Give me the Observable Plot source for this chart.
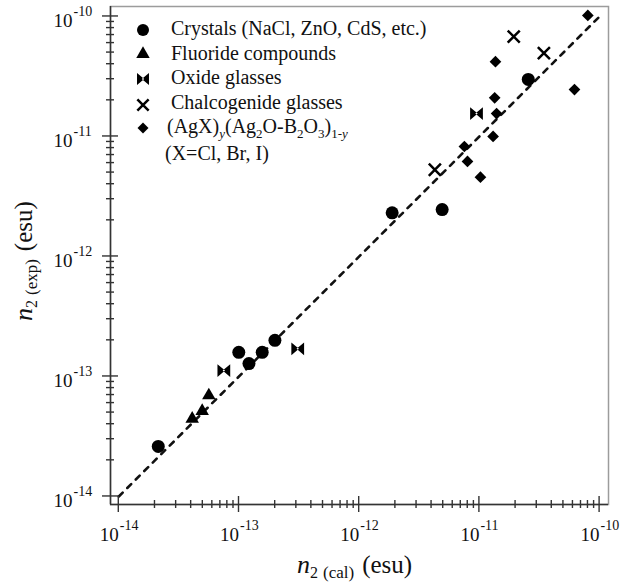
<!DOCTYPE html>
<html><head><meta charset="utf-8">
<script src="https://cdn.jsdelivr.net/npm/d3@7"></script>
<script src="https://cdn.jsdelivr.net/npm/@observablehq/plot@0.6"></script>
<style>
body{margin:0;background:#fff}
#chart svg{display:block}
</style></head><body><div id="chart"></div>
<script>
// ---- data ----
const crystalsX = [2.13e-14, 9.96e-14, 1.21e-13, 1.56e-13, 1.99e-13, 1.88e-12, 4.9e-12, 2.55e-11];
const crystalsY = [2.61e-14, 1.59e-13, 1.28e-13, 1.59e-13, 2.0e-13, 2.31e-12, 2.46e-12, 2.99e-11];
const fluorideX = [4.08e-14, 4.94e-14, 5.61e-14];
const fluorideY = [4.44e-14, 5.14e-14, 6.95e-14];
const oxideX = [7.48e-14, 3.08e-13, 9.46e-12];
const oxideY = [1.12e-13, 1.70e-13, 1.55e-11];
const chalcX = [4.26e-12, 1.93e-11, 3.44e-11];
const chalcY = [5.28e-12, 6.8e-11, 4.95e-11];
const agxX = [7.5e-12, 7.96e-12, 1.02e-11, 1.30e-11, 1.34e-11, 1.39e-11, 1.36e-11, 6.18e-11, 7.98e-11];
const agxY = [8.25e-12, 6.19e-12, 4.58e-12, 1.0e-11, 2.1e-11, 1.55e-11, 4.2e-11, 2.46e-11, 1.02e-10];
const refLine = [1e-14, 1e-10];
const majorTicks = [1e-14, 1e-13, 1e-12, 1e-11, 1e-10];
const tickExponents = ["-14", "-13", "-12", "-11", "-10"];
const minorMantissas = [2, 3, 4, 5, 6, 7, 8, 9];
const legendLabels = ["Crystals (NaCl, ZnO, CdS, etc.)", "Fluoride compounds", "Oxide glasses", "Chalcogenide glasses"];

const minorTicks = majorTicks.slice(0, -1).flatMap(d => minorMantissas.map(m => m * d));
const xDomain = [10 ** -14.069, 10 ** -9.926];
const yDomain = [10 ** -14.067, 10 ** -9.917];
const FONT = "'Liberation Serif','Times New Roman',serif";
const INK = "#111";
const AXIS = "#333";

// ---- symbols ----
const symDiamond = {draw(c, size) { const r = Math.sqrt(size) * 0.66; c.moveTo(0, -r); c.lineTo(r, 0); c.lineTo(0, r); c.lineTo(-r, 0); c.closePath(); }};
const symBowtie = {draw(c, size) { const w = Math.sqrt(size) * 0.72, h = Math.sqrt(size) * 0.72;
  c.moveTo(-w, -h); c.lineTo(1.2, 0); c.lineTo(-w, h); c.closePath();
  c.moveTo(w, -h); c.lineTo(-1.2, 0); c.lineTo(w, h); c.closePath(); }};
const symTimes = {draw(c, size) { const r = Math.sqrt(size) * 0.68; c.moveTo(-r, -r); c.lineTo(r, r); c.moveTo(r, -r); c.lineTo(-r, r); }};

const pts = (xs, ys) => xs.map((x, i) => ({x, y: ys[i]}));

const chart = Plot.plot({
  width: 629, height: 584,
  marginLeft: 110, marginRight: 21, marginTop: 6, marginBottom: 80,
  x: {type: "log", domain: xDomain, axis: null},
  y: {type: "log", domain: yDomain, axis: null},
  style: {fontFamily: FONT, background: "white", color: INK},
  marks: [
    Plot.frame({stroke: "#9c9c9c", strokeWidth: 1.5}),
    Plot.ruleX([xDomain[0]], {stroke: AXIS, strokeWidth: 1.5}),
    Plot.ruleY([yDomain[0]], {stroke: AXIS, strokeWidth: 1.5}),
    Plot.text(majorTicks, {x: d => d, frameAnchor: "bottom", text: () => "10", textAnchor: "end", lineAnchor: "bottom", dy: 36, fontSize: 19, fill: INK}),
    Plot.text(majorTicks, {x: d => d, frameAnchor: "bottom", text: (d, i) => tickExponents[i], textAnchor: "start", lineAnchor: "bottom", dy: 25, dx: 1, fontSize: 14, fill: INK}),
    Plot.text(majorTicks, {y: d => d, frameAnchor: "left", text: () => "10", textAnchor: "end", lineAnchor: "bottom", dx: -38, dy: 11, fontSize: 19, fill: INK}),
    Plot.text(majorTicks, {y: d => d, frameAnchor: "left", text: (d, i) => tickExponents[i], textAnchor: "start", lineAnchor: "bottom", dx: -37, dy: 0, fontSize: 14, fill: INK}),
    Plot.line(refLine, {x: d => d, y: d => d, stroke: "#111", strokeWidth: 2.6, strokeDasharray: "5.5,6.5"}),
    Plot.dot(pts(crystalsX, crystalsY), {x: "x", y: "y", symbol: d3.symbolCircle, r: 6.5, fill: "#000", stroke: "none"}),
    Plot.dot(pts(fluorideX, fluorideY), {x: "x", y: "y", symbol: d3.symbolTriangle, r: 5, fill: "#000", stroke: "none"}),
    Plot.dot(pts(oxideX, oxideY), {x: "x", y: "y", symbol: symBowtie, r: 5, fill: "#000", stroke: "none"}),
    Plot.dot(pts(chalcX, chalcY), {x: "x", y: "y", symbol: symTimes, r: 5, fill: "none", stroke: "#000", strokeWidth: 2.5}),
    Plot.dot(pts(agxX, agxY), {x: "x", y: "y", symbol: symDiamond, r: 5, fill: "#000", stroke: "none"})
  ]
});
document.getElementById("chart").append(chart);

const svg = d3.select(chart);

// ---- axis ticks, crossing the axis lines, placed by Plot's own scales ----
const sx = chart.scale("x"), sy = chart.scale("y");
const x0 = sx.range[0], y0 = sy.range[0];
const tg = svg.append("g").attr("stroke", AXIS).attr("stroke-width", 1.4);
const tick = (arr, half) => {
  arr.forEach(v => { const px = sx.apply(v); tg.append("line").attr("x1", px).attr("x2", px).attr("y1", y0 - half).attr("y2", y0 + half); });
  arr.forEach(v => { const py = sy.apply(v); tg.append("line").attr("y1", py).attr("y2", py).attr("x1", x0 - half).attr("x2", x0 + half); });
};
tick(majorTicks, 8);
tick(minorTicks, 4);

// ---- axis titles ----
function title(g, sub) {
  const t = g.append("text").attr("font-family", FONT).attr("fill", INK).attr("text-anchor", "start");
  t.append("tspan").attr("font-style", "italic").attr("font-size", 26).text("n");
  t.append("tspan").attr("font-size", 16).attr("dy", 5).text("2");
  t.append("tspan").attr("font-size", 17).attr("dx", 5).text(sub);
  t.append("tspan").attr("font-size", 25).attr("dy", -5).attr("dx", 8).text("(esu)");
  return t;
}
title(svg.append("g").attr("transform", "translate(297,573)"), "(cal)");
title(svg.append("g").attr("transform", "translate(32,321) rotate(-90)"), "(exp)");

// ---- legend ----
const lg = svg.append("g").attr("font-family", FONT).attr("fill", INK).attr("font-size", 20).attr("text-anchor", "start");
const legSyms = [
  {sym: d3.symbolCircle, size: Math.PI * 6 * 6, cy: 30, fill: true},
  {sym: d3.symbolTriangle, size: Math.PI * 25, cy: 54, fill: true},
  {sym: symBowtie, size: Math.PI * 22, cy: 79, fill: true},
  {sym: symTimes, size: Math.PI * 22, cy: 105, fill: false},
  {sym: symDiamond, size: Math.PI * 22, cy: 128, fill: true}
];
legSyms.forEach(s => {
  lg.append("path").attr("transform", `translate(143,${s.cy})`)
    .attr("d", d3.symbol(s.sym, s.size)())
    .attr("fill", s.fill ? "#000" : "none")
    .attr("stroke", s.fill ? "none" : "#000").attr("stroke-width", 2.5);
});
legendLabels.forEach((l, i) => {
  lg.append("text").attr("x", 171).attr("y", [35, 59.5, 84, 109][i]).text(l);
});
const t5 = lg.append("text").attr("x", 167).attr("y", 133);
const sub = (s, it) => t5.append("tspan").attr("font-size", 13).attr("dy", 5).attr("font-style", it ? "italic" : null).text(s);
const up = s => t5.append("tspan").attr("dy", -5).text(s);
t5.append("tspan").text("(AgX)");
sub("y", true); up("(Ag"); sub("2"); up("O-B"); sub("2"); up("O"); sub("3"); up(")");
sub("1-"); t5.append("tspan").attr("font-size", 13).attr("font-style", "italic").text("y");
lg.append("text").attr("x", 165).attr("y", 160).text("(X=Cl, Br, I)");
</script>
</body></html>
